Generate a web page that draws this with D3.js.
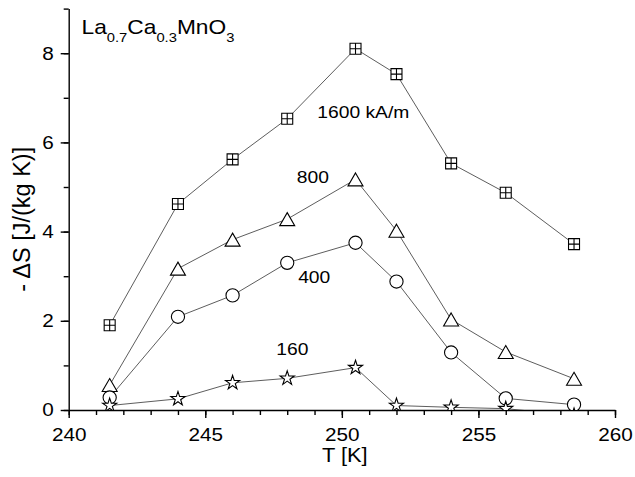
<!DOCTYPE html>
<html>
<head>
<meta charset="utf-8">
<script src="https://cdn.jsdelivr.net/npm/d3@7"></script>
<style>
  html, body { margin: 0; padding: 0; background: #fff; }
  svg { display: block; font-family: "Liberation Sans", Arial, sans-serif; }
</style>
</head>
<body>
<svg id="chart" width="635" height="477"></svg>
<script>
// Temperatures (K) at which the entropy change was measured
const temperatures = [241.5, 244, 246, 248, 250.5, 252, 254, 256, 258.5];

// -ΔS in J/(kg K) for each applied field
const dS1600 = [1.9, 4.62, 5.62, 6.53, 8.1, 7.53, 5.53, 4.87, 3.72];
const dS800  = [0.56, 3.17, 3.82, 4.28, 5.17, 4.02, 2.03, 1.3, 0.7];
const dS400  = [0.28, 2.09, 2.57, 3.3, 3.75, 2.88, 1.29, 0.26, 0.12];
const dS160  = [0.1, 0.25, 0.61, 0.71, 0.95, 0.1, 0.06, 0.03, -0.12];

const fieldLabels = ["1600 kA/m", "800", "400", "160"];

const xMajorTicks = [240, 245, 250, 255, 260];
const yMajorTicks = [0, 2, 4, 6, 8];

const W = 635, H = 477;
const margin = { top: 8.6, right: 20, bottom: 67, left: 68.7 };
const SX = 1.12; // horizontal glyph stretch

const svg = d3.select("#chart");

const x = d3.scaleLinear().domain([240, 260]).range([margin.left, W - margin.right]);
const y = d3.scaleLinear().domain([0, 9]).range([H - margin.bottom, margin.top]);

// stretch text horizontally around its anchor point
function stretchText(sel) {
  sel.each(function () {
    const t = d3.select(this);
    const tx = +t.attr("x") || 0, ty = +t.attr("y") || 0;
    t.attr("x", 0).attr("y", 0).attr("transform", `translate(${tx},${ty}) scale(${SX},1)`);
  });
}

// clip region for data marks
svg.append("clipPath").attr("id", "plotClip")
  .append("rect")
  .attr("x", margin.left).attr("y", 0)
  .attr("width", W - margin.right - margin.left + 10)
  .attr("height", y(0));

// ---- axes ----
const axisStroke = 1.4;
const gx = svg.append("g").attr("transform", `translate(0,${y(0)})`);
gx.append("g").call(d3.axisBottom(x).tickValues(d3.range(240, 261, 1)).tickSize(5).tickFormat(""))
  .call(g => g.select(".domain").remove());
gx.append("g").call(d3.axisBottom(x).tickValues(xMajorTicks).tickSize(8).tickPadding(10).tickSizeOuter(0))
  .call(g => g.selectAll("text").attr("font-size", 18.5).attr("fill", "#000").call(stretchText));
gx.selectAll("line, path").attr("stroke", "#000").attr("stroke-width", axisStroke);
gx.selectAll("text").attr("font-family", "Liberation Sans, Arial, sans-serif");

const gy = svg.append("g").attr("transform", `translate(${x(240)},0)`);
gy.append("g").call(d3.axisLeft(y).tickValues(d3.range(0, 10, 1)).tickSize(5).tickFormat(""))
  .call(g => g.select(".domain").remove());
gy.append("g").call(d3.axisLeft(y).tickValues(yMajorTicks).tickSize(8).tickPadding(7).tickSizeOuter(0))
  .call(g => g.selectAll("text").attr("font-size", 18.5).attr("fill", "#000").call(stretchText));
gy.selectAll("line, path").attr("stroke", "#000").attr("stroke-width", axisStroke);
gy.selectAll("text").attr("font-family", "Liberation Sans, Arial, sans-serif");

// axis titles
svg.append("text")
  .attr("transform", `translate(${(x(240) + x(260)) / 2 + 3},${H - 15}) scale(${SX},1)`)
  .attr("text-anchor", "middle").attr("font-size", 19.5).text("T [K]");

svg.append("text")
  .attr("transform", `translate(30,${(y(0) + y(9)) / 2 + 10}) rotate(-90)`)
  .attr("text-anchor", "middle").attr("font-size", 23.5).text("- ΔS [J/(kg K)]");

// ---- marker shapes ----
function squareCross(s) {
  const h = s / 2;
  return `M${-h},${-h}H${h}V${h}H${-h}Z M0,${-h}V${h} M${-h},0H${h}`;
}
function triangleUp(w, hgt) {
  const a = w / 2, b = hgt / 2;
  return `M0,${-b}L${a},${b}L${-a},${b}Z`;
}
function circle(r) {
  return d3.arc()({ innerRadius: 0, outerRadius: r, startAngle: 0, endAngle: 2 * Math.PI });
}
const starPath = d3.symbol(d3.symbolStar, 62)();

const series = [
  { values: dS1600, shape: squareCross(11) },
  { values: dS800, shape: triangleUp(15, 13) },
  { values: dS400, shape: circle(6.6) },
  { values: dS160, shape: starPath }
];

const plot = svg.append("g").attr("clip-path", "url(#plotClip)");
const line = d3.line().x((d, i) => x(temperatures[i])).y(d => y(d));

series.forEach(s => {
  plot.append("path").datum(s.values)
    .attr("d", line)
    .attr("fill", "none").attr("stroke", "#333").attr("stroke-width", 0.8);
});
series.forEach(s => {
  plot.append("g").selectAll("path").data(s.values).join("path")
    .attr("transform", (d, i) => `translate(${x(temperatures[i])},${y(d)})`)
    .attr("d", s.shape)
    .attr("fill", "#fff").attr("stroke", "#000").attr("stroke-width", 1.1);
});

// field labels next to the curves
const labelPos = [
  { t: 249.1, v: 6.55 },
  { t: 248.35, v: 5.09 },
  { t: 248.4, v: 2.85 },
  { t: 247.6, v: 1.23 }
];
fieldLabels.forEach((lab, i) => {
  svg.append("text")
    .attr("transform", `translate(${x(labelPos[i].t)},${y(labelPos[i].v)}) scale(${SX},1)`)
    .attr("font-size", 17.2).text(lab);
});

// compound name with subscripts
const title = svg.append("text")
  .attr("transform", `translate(81.5,33.5) scale(${SX},1)`)
  .attr("font-size", 20.3);
[["La", false], ["0.7", true], ["Ca", false], ["0.3", true], ["MnO", false], ["3", true]].forEach(([t, sub]) => {
  title.append("tspan").text(t)
    .attr("font-size", sub ? 13.2 : 20.3)
    .attr("dy", sub ? 8.5 : (t === "La" ? 0 : -8.5));
});
</script>
</body>
</html>
